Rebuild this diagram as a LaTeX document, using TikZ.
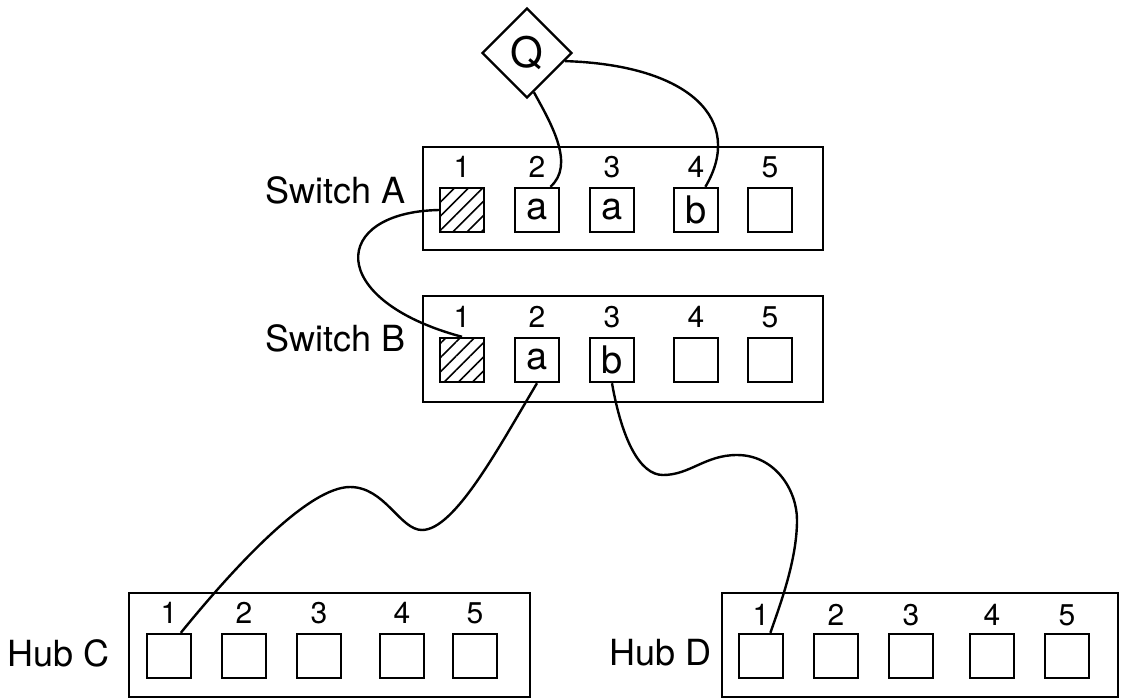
\documentclass[tikz,border=0pt]{standalone}
\usepackage{fontspec}
\setmainfont{TeX Gyre Heros}
\usetikzlibrary{shapes.geometric, patterns.meta}

\begin{document}
\begin{tikzpicture}[x=1pt, y=-1pt,
        box/.style={rectangle, draw, line width=2.6pt, inner sep=0pt},
        port/.style={rectangle, draw, line width=2.4pt, minimum size=44pt, inner sep=0pt, font=\fontsize{38}{40}\selectfont},
        busy/.style={port, pattern={Lines[angle=45, distance=10pt, line width=1.6pt]}},
        num/.style={inner sep=0pt, font=\fontsize{30}{32}\selectfont},
        lbl/.style={inner sep=0pt, anchor=east, font=\fontsize{36}{40}\selectfont},
        cable/.style={line width=2.4pt}]
        \useasboundingbox (0,0) rectangle (1121,699);
        \node (q) at (527,53) [diamond, draw, line width=2.4pt, minimum width=90pt, minimum height=90pt, inner sep=0pt, font=\fontsize{42}{44}\selectfont] {Q};

        \node (swa) at (623,198.5) [box, minimum width=400pt, minimum height=103pt] {};
        \node (swb) at (623,349) [box, minimum width=400pt, minimum height=106pt] {};
        \node (hubc) at (329.5,645) [box, minimum width=401pt, minimum height=104pt] {};
        \node (hubd) at (920,645) [box, minimum width=396pt, minimum height=104pt] {};
        \node (la) at (406,190) [lbl] {Switch A};
        \node (lb) at (406,338) [lbl] {Switch B};
        \node (lc) at (110,653) [lbl] {Hub C};
        \node (ld) at (712,653) [lbl] {Hub D};

        \node (a1) at (462,210) [busy] {};
        \node (a2) at (537,210) [port] {a};
        \node (a3) at (612,210) [port] {a};
        \node (a4) at (696,210) [port] {b};
        \node (a5) at (770,210) [port] {};
        \node (b1) at (462,360) [busy] {};
        \node (b2) at (537,360) [port] {a};
        \node (b3) at (612,360) [port] {b};
        \node (b4) at (696,360) [port] {};
        \node (b5) at (770,360) [port] {};
        \foreach \i/\x in {1/462,2/537,3/612,4/696,5/770} {
            \node (na\i) at (\x,167) [num] {\i};
            \node (nb\i) at (\x,317) [num] {\i};
        }
        \foreach \i/\x in {1/169,2/244,3/319,4/402,5/475} {
            \node (c\i) at (\x,656) [port] {};
            \node (nc\i) at (\x,613) [num] {\i};
        }
        \foreach \i/\x in {1/761,2/836,3/911,4/992,5/1067} {
            \node (d\i) at (\x,656) [port] {};
            \node (nd\i) at (\x,615) [num] {\i};
        }

        \draw[cable] (q.-80) .. controls (552,125) and (575,165) .. (a2.60);
        \draw[cable] (q.-12) .. controls (690,65) and (745,120) .. (a4.68);
        \draw[cable] (a1.west) .. controls (330,212) and (325,300) .. (b1.north);
        \draw[cable] (b2.south) .. controls (500,445) and (455,530) .. (422,530)
            .. controls (400,530) and (385,487) .. (350,487)
            .. controls (310,487) and (240,560) .. (c1.63);
        \draw[cable] (b3.south) .. controls (622,440) and (640,475) .. (663,475)
            .. controls (690,475) and (705,455) .. (737,455)
            .. controls (775,455) and (797,490) .. (797,520)
            .. controls (797,560) and (780,605) .. (d1.68);
    \end{tikzpicture}
\end{document}
